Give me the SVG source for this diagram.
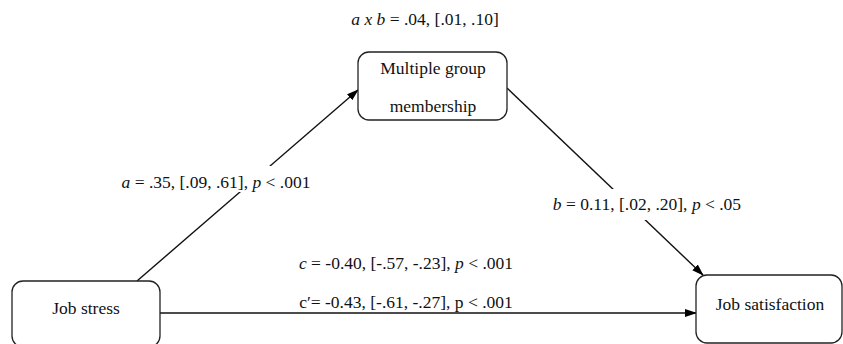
<svg xmlns="http://www.w3.org/2000/svg" width="843" height="344" viewBox="0 0 843 344">
<defs>
<marker id="arr" markerWidth="12" markerHeight="8" refX="11" refY="4" orient="auto" markerUnits="userSpaceOnUse">
<path d="M0,0 L12,4 L0,8 z" fill="#000"/>
</marker>
<style>
.box{fill:#fff;stroke:#222;stroke-width:1.3}
.ln{stroke:#111;stroke-width:1.4;fill:none}
.bg{fill:#fff}
</style>
</defs>
<rect width="843" height="344" fill="#fff"/>
<g font-family="'Liberation Serif', Tinos, 'Times New Roman', 'DejaVu Serif', serif" font-size="17.5" fill="#111">
<g id="connectors">
<line class="ln" x1="137" y1="281" x2="358" y2="90" marker-end="url(#arr)"/>
<line class="ln" x1="507" y1="88" x2="703" y2="275" marker-end="url(#arr)"/>
<line class="ln" x1="160" y1="313" x2="696" y2="313" marker-end="url(#arr)"/>
<rect class="bg" x="118" y="166" width="198" height="26"/>
<rect class="bg" x="548" y="189" width="198" height="31"/>
<text x="216" y="188" text-anchor="middle"><tspan font-style="italic">a</tspan> = .35, [.09, .61], <tspan font-style="italic">p</tspan> &lt; .001</text>
<text x="647" y="210" text-anchor="middle"><tspan font-style="italic">b</tspan> = 0.11, [.02, .20], <tspan font-style="italic">p</tspan> &lt; .05</text>
<text x="406" y="269" text-anchor="middle"><tspan font-style="italic">c</tspan> = -0.40, [-.57, -.23], <tspan font-style="italic">p</tspan> &lt; .001</text>
<text x="406" y="308" text-anchor="middle">c′= -0.43, [-.61, -.27], p &lt; .001</text>
</g>
<text x="425" y="25" text-anchor="middle"><tspan font-style="italic">a x b</tspan> = .04, [.01, .10]</text>
<g id="mediator">
<rect class="box" x="358" y="52" width="149" height="68" rx="11"/>
<text x="433" y="74" text-anchor="middle">Multiple group</text>
<text x="433" y="112" text-anchor="middle">membership</text>
</g>
<g id="jobstress">
<rect class="box" x="12" y="281" width="148" height="66" rx="11"/>
<text x="86" y="314" text-anchor="middle">Job stress</text>
</g>
<g id="jobsatisfaction">
<rect class="box" x="696" y="275" width="146" height="68" rx="11"/>
<text x="770" y="310" text-anchor="middle">Job satisfaction</text>
</g>
</g>
</svg>
